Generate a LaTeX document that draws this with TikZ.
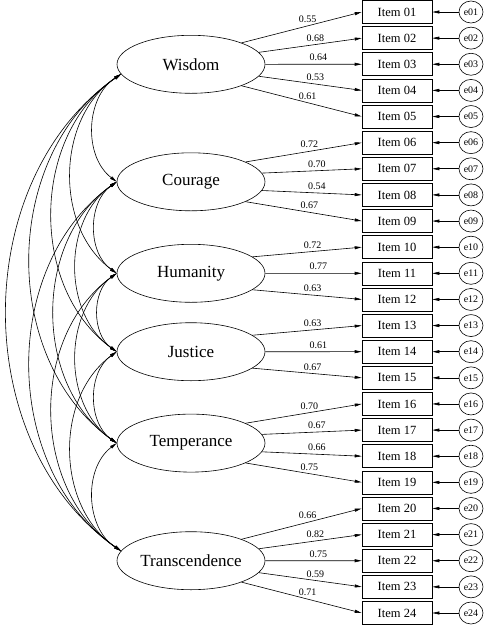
\documentclass[tikz,border=0pt]{standalone}
\usepackage{fontspec}
\setmainfont{Liberation Serif}
\usetikzlibrary{shapes.geometric, arrows.meta, positioning}
\tikzset{
	factornode/.style={
			ellipse,
			draw=black,
			line width=0.6pt,
			minimum width=148pt,
			minimum height=58pt,
			inner sep=0pt,
			font=\fontsize{17}{20}\selectfont
		},
	itemnode/.style={
			rectangle,
			draw=black,
			line width=0.6pt,
			minimum width=70pt,
			minimum height=23pt,
			inner sep=0pt,
			font=\fontsize{12.5}{15}\selectfont
		},
	errornode/.style={
			ellipse,
			draw=black,
			line width=0.6pt,
			minimum width=24pt,
			minimum height=22pt,
			inner sep=0pt,
			font=\fontsize{10}{12}\selectfont
		},
	loadline/.style={
			-{Triangle[length=7pt,width=3pt]},
			line width=0.6pt
		},
	covline/.style={
			{Triangle[length=7pt,width=3pt]}-{Triangle[length=7pt,width=3pt]},
			line width=0.6pt
		},
	loadlabel/.style={
			above,
			pos=0.55,
			inner sep=1pt,
			yshift=2pt,
			font=\fontsize{10}{12}\selectfont
		}
}

\begin{document}
\begin{tikzpicture}[x=1pt, y=1pt]
				\useasboundingbox (0,0) rectangle (489,-625);

				\node[factornode] at (191,-64.3) (Wisdom) {Wisdom};
				\node[factornode] at (191,-181.8) (Courage) {Courage};
				\node[factornode] at (191,-273.3) (Humanity) {Humanity};
				\node[factornode] at (191,-351.7) (Justice) {Justice};
				\node[factornode] at (191,-443.1) (Temperance) {Temperance};
				\node[factornode] at (191,-560.7) (Transcendence) {Transcendence};

				% items with their error terms
				\foreach \n [count=\i] in {01,02,03,04,05,06,07,08,09,10,11,12,13,14,15,16,17,18,19,20,21,22,23,24} {
					\node[itemnode] at (397,{-12-(\i-1)*26.13}) (item\n) {Item \n};
					\node[errornode] at (471,{-12-(\i-1)*26.13}) (e\n) {e\n};
					\draw[loadline] (e\n) -- (item\n);
				}

				% loadings
				\foreach \f/\n/\a/\v in {
					Wisdom/01/23/0.55, Wisdom/02/10/0.68, Wisdom/03/0/0.64, Wisdom/04/350/0.53, Wisdom/05/337/0.61,
					Courage/06/20/0.72, Courage/07/7/0.70, Courage/08/353/0.54, Courage/09/340/0.67,
					Humanity/10/15/0.72, Humanity/11/0/0.77, Humanity/12/345/0.63,
					Justice/13/15/0.63, Justice/14/0/0.61, Justice/15/345/0.67,
					Temperance/16/20/0.70, Temperance/17/7/0.67, Temperance/18/353/0.66, Temperance/19/340/0.75,
					Transcendence/20/23/0.66, Transcendence/21/10/0.82, Transcendence/22/0/0.75,
					Transcendence/23/350/0.59, Transcendence/24/337/0.71}
					\draw[loadline] (\f.\a) -- (item\n.west) node[loadlabel] {\v};

				% correlations between factors
				\foreach \p/\q in {
					Wisdom.188/Courage.west, Wisdom.188/Humanity.west, Wisdom.188/Justice.west,
					Wisdom.188/Temperance.west, Wisdom.188/Transcendence.172,
					Courage.west/Humanity.west, Courage.west/Justice.west,
					Courage.west/Temperance.west, Courage.west/Transcendence.172,
					Humanity.west/Justice.west, Humanity.west/Temperance.west,
					Humanity.west/Transcendence.172,
					Justice.west/Temperance.west, Justice.west/Transcendence.172,
					Temperance.west/Transcendence.172}
					\draw[covline] (\p) to[bend right=55] (\q);
			\end{tikzpicture}
\end{document}
